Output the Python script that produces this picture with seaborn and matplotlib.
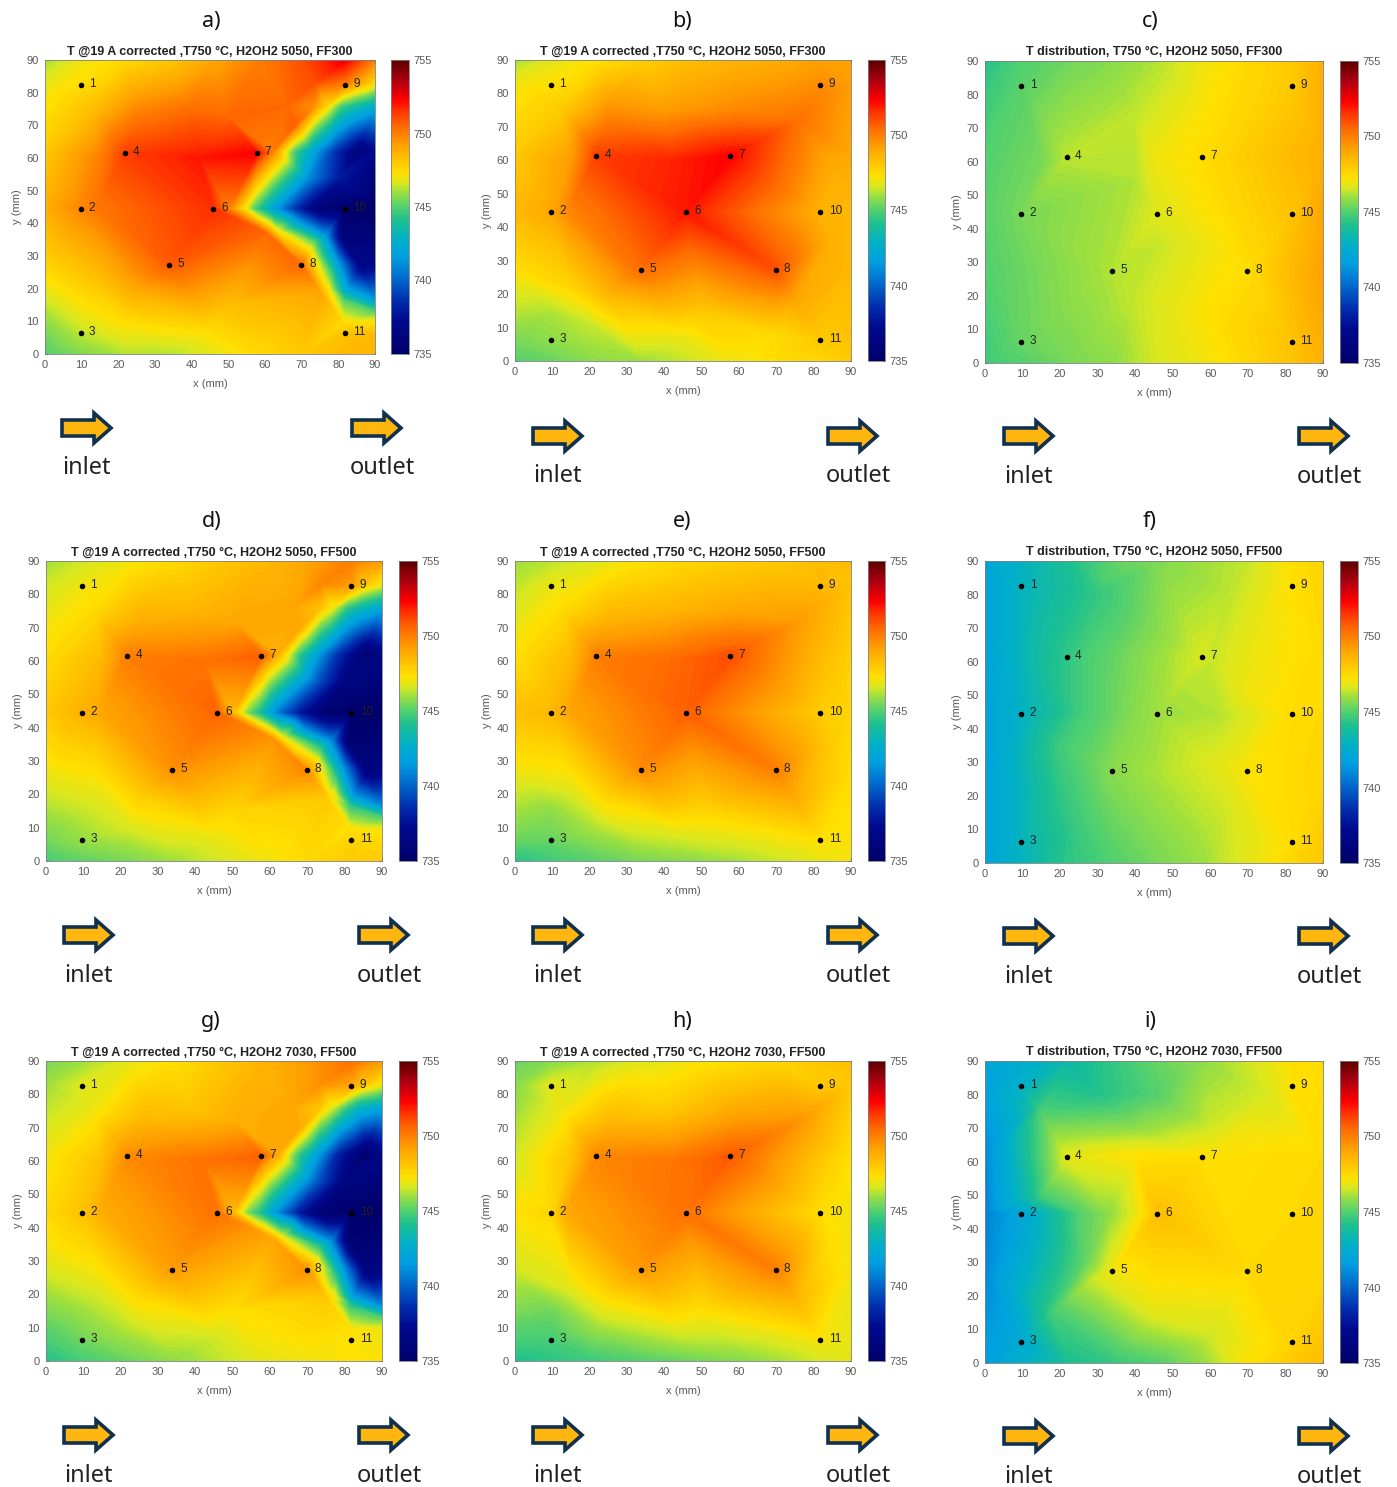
import numpy as np
import matplotlib
matplotlib.use("Agg")
import matplotlib.pyplot as plt
import matplotlib.tri as mtri
from matplotlib.cm import ScalarMappable
from matplotlib.colors import Normalize, LinearSegmentedColormap
from matplotlib.patches import Polygon
import seaborn as sns

sns.set_theme(style="white")
plt.rcParams['font.family'] = ['Liberation Sans', 'DejaVu Sans']

W, H = 1397, 1487

# thermocouple positions (mm)
sensor_x = [9.7, 9.7, 9.7, 21.8, 33.8, 45.9, 57.7, 69.8, 81.8, 81.8, 81.8]
sensor_y = [82.5, 44.5, 6.3, 61.4, 27.3, 44.5, 61.4, 27.3, 82.5, 44.5, 6.3]

# plate edge positions: left side, top, right side, bottom
edge_x = [0, 0, 0, 0, 0, 0, 0,
          10, 22, 34, 46, 58, 70, 82, 90,
          90, 90, 90, 90, 90, 90,
          82, 70, 58, 46, 34, 22, 10]
edge_y = [0, 6, 27, 45, 62, 83, 90,
          90, 90, 90, 90, 90, 90, 90, 90,
          83, 62, 45, 27, 6, 0,
          0, 0, 0, 0, 0, 0, 0]

# extra readings around the cold spot and the hot zone (panels a, d, g)
cold_x = [50, 54, 57, 62, 67.5, 74,
          62, 65, 67.8, 73, 78.4, 85.6,
          66, 73.6, 77, 80.5, 83.6, 85.5, 90,
          60.5, 63.4, 65.3, 69.2, 72.7, 71, 73.6, 76.4, 81,
          77, 75, 77.5, 79.3, 81.4, 81.4, 82.2, 86, 90, 90, 90,
          42, 50, 73.6, 68,
          13, 25, 40, 15, 14, 15, 25, 50, 10, 22, 45,
          72, 80]
cold_y = [44.5, 44.5, 44.5, 44.5, 44.5, 44.5,
          62, 62, 62, 62, 62, 62,
          76, 76, 76, 76, 76, 83, 76,
          36.8, 37.2, 39.5, 40.3, 29.8, 29, 34.4, 36, 36,
          19.6, 19, 25.5, 28, 9.4, 16.5, 19.6, 27, 13, 16.5, 9.5,
          60, 72, 83, 70,
          75, 72, 75, 60, 45, 22, 20, 15, 15, 10, 7,
          54, 54]
c_a = [750, 747.5, 745, 742, 739, 736,
       750, 747.5, 745, 742, 739, 736,
       750.5, 749.5, 747.5, 745, 744, 749, 742.5,
       750.5, 747.5, 745, 741.5, 747.5, 749.5, 745, 741.5, 736,
       747.5, 749, 745, 742, 747.5, 745, 742, 736.5, 745, 741.5, 747.3,
       752, 750.6, 751, 750.7,
       748.3, 750.2, 750.4, 750, 750.2, 748.2, 749, 748.3, 747.2, 747.4, 747.4,
       741, 738]
c_d = [748.5, 745.5, 744, 740.5, 738, 735.5,
       748.8, 746.8, 744.5, 741.5, 738.5, 735.5,
       749, 748.2, 746.8, 744.5, 743.5, 748, 742,
       749.5, 746.8, 744.5, 740.5, 747.3, 748.5, 744, 741, 735.5,
       747.3, 748, 744.5, 741.5, 747.3, 744.5, 741.5, 736, 745, 741, 747,
       750.3, 749, 749.8, 749,
       747.5, 748.8, 748.6, 748.5, 749, 747, 747.9, 747.6, 746.4, 746.6, 746.9,
       740, 736.5]
c_g = [748.5, 745.5, 744.2, 741, 738, 735.5,
       749, 746.5, 744.5, 741.5, 738, 735.3,
       749, 748, 746.5, 744.5, 743, 748, 742,
       749, 746.8, 744.5, 740.5, 747.3, 748.5, 744, 741, 735.5,
       747.3, 748, 744.5, 741.5, 747.3, 744.5, 741.5, 736, 745, 741, 747,
       750.3, 748.8, 749.6, 748.9,
       747, 748.5, 748.2, 748.3, 748.8, 746.8, 747.6, 747.3, 746, 746.3, 746.5,
       740, 736.5]

# ring of readings around the hot zone (panels b, e, h)
ring_x = [13, 25, 40, 60, 76, 15, 14, 15, 25, 50, 75, 84, 84, 42, 10, 22, 45, 70]
ring_y = [75, 72, 75, 75, 72, 60, 45, 22, 20, 15, 18, 35, 60, 60, 15, 10, 7, 8]
c_b = [748, 750, 749.3, 749.8, 750.3, 749.3, 749.8, 747.6, 748.6, 748, 749, 748.8, 749, 751.8, 746.2, 746.4, 746.9, 747.5]
c_e = [747.5, 748.7, 748.6, 749, 749.3, 748.5, 749, 746.8, 747.8, 747.6, 748.8, 748, 748.2, 750.5, 745.8, 746.2, 746.6, 747.2]
c_h = [747, 748.5, 748, 749, 749.5, 748.2, 749, 746.8, 747.6, 747.3, 748.6, 747.4, 747.8, 750.2, 745.4, 746, 746.4, 746.9]

# extra readings, T distribution panels
c3_x = [42, 40, 45, 40, 40, 46, 60, 60, 70, 15, 58]
c3_y = [80, 72, 62, 55, 20, 35, 35, 15, 45, 60, 75]
c_c = [746.3, 746.4, 747, 746.2, 746.4, 746.4, 747, 747.3, 747.7, 745.5, 747.2]
f_x = [15, 26, 26, 20, 20, 25, 30, 32, 40, 47, 60, 60, 62, 70, 64, 65, 75]
f_y = [60, 62, 45, 35, 20, 8, 80, 85, 45, 27, 30, 60, 44.5, 50, 15, 80, 75]
c_f = [743.8, 744.8, 744.8, 744.7, 744.4, 744.6, 744.5, 745, 745.7, 746.2, 746.7, 746.4, 746.2, 747, 746.5, 746.3, 747]
i_x = [12, 15, 12, 15, 16, 18, 25, 40, 60, 75, 45, 30, 25, 33, 38, 42, 27, 29, 45, 60, 60, 40]
i_y = [76, 74, 50, 50, 16, 15, 66, 70, 70, 80, 80, 80, 45, 44.5, 44.5, 44.5, 30, 25, 15, 8, 60, 62]
c_i = [743.6, 745, 743.8, 744.8, 744.2, 744.8, 746.3, 745.8, 746.5, 746.6, 745, 744.2, 745, 745.8, 746.5, 747.3, 745.3, 746.5, 746.8, 746.5, 747.3, 747.3]

t_a = [747.4, 749.8, 746.3, 751.3, 750.8, 751.6, 752.3, 750.5, 750, 735, 748.2]
t_b = [747.3, 749, 745.8, 751.3, 750.4, 752, 752.3, 751, 749.7, 748.7, 748]
t_c = [745.1, 745.5, 745.3, 746.3, 746.2, 746.7, 747.4, 747.4, 748, 748.2, 748.2]
t_d = [747, 748.7, 745.9, 750, 749.6, 750.6, 750.7, 749.8, 749.3, 735, 747.7]
t_e = [746.9, 748.5, 745.3, 750, 749.7, 750.7, 751, 750, 748.5, 747.9, 747.3]
t_f = [743, 742.9, 743.1, 744.4, 745.7, 746, 746.6, 747.2, 747.3, 747.4, 747.4]
t_g = [746.7, 748.2, 745.4, 749.7, 749.3, 750.3, 750.7, 749.6, 749, 735, 747.3]
t_h = [746.8, 747.6, 744.8, 749.8, 749.4, 750.3, 750.8, 750, 748, 747.4, 747.1]
t_i = [742.8, 742, 742.3, 746.8, 747, 748.3, 747.4, 747.5, 747.3, 747.5, 747.7]

e_a = [745, 745.4, 747.6, 748.8, 748, 746.8, 746, 747, 747.5, 748, 749, 750, 751, 752.5, 750,
       747.5, 737, 735, 737, 748.5, 748.5, 748.5, 748, 747.5, 746.8, 746.2, 746.2, 745.6]
e_b = [745, 745.5, 747.3, 748.5, 748, 747, 746, 746.8, 747.3, 747.8, 748.3, 748.6, 748.8, 749.2, 749.3,
       749.3, 749, 748.5, 748.5, 748.2, 748, 747.6, 747.4, 747, 746.4, 746, 745.8, 745.3]
e_c = [744.7, 744.7, 745, 745.1, 745, 744.5, 744.2, 745, 745.4, 745.7, 746.2, 747, 747.5, 748, 748.7,
       748.8, 748.8, 749, 749.2, 748.8, 748.7, 748.2, 747.6, 747, 746.6, 745.8, 745.5, 745]
e_d = [744.8, 745.4, 747, 748, 747.4, 746.5, 746, 746.5, 747, 747.5, 748, 748.5, 749, 750, 749.3,
       747, 736.5, 735, 736.5, 747.5, 748, 748, 747.5, 747, 746.5, 746, 745.5, 745.2]
e_e = [744.3, 745.3, 747, 748.3, 747.3, 746.3, 746, 746.3, 746.7, 747.2, 747.6, 747.8, 748, 748.4, 748.5,
       748.2, 747.8, 747.6, 747.4, 747.2, 747.2, 746.9, 746.4, 746, 745.7, 745.5, 745.1, 744.7]
e_f = [741.9, 741.8, 741.8, 741.8, 741.9, 741.9, 742, 743, 744, 745.2, 745.6, 746, 746.4, 747.4, 747.6,
       747.6, 747.5, 747.5, 747.6, 748, 748, 747.6, 746.8, 746, 745.5, 745, 744.4, 743]
e_g = [744.2, 744.8, 746.6, 747.5, 747, 746, 745.5, 746, 746.8, 747.3, 748, 748.6, 749.3, 750.3, 749.3,
       747, 736.5, 735, 736.5, 747, 747.3, 747.3, 747, 746.8, 746.3, 745.8, 745.3, 744.8]
e_h = [744.1, 744.8, 746.5, 747.3, 746.5, 745.7, 745.3, 745.7, 746.2, 746.7, 747, 747.3, 747.6, 748.1, 748.3,
       748, 747.3, 747, 747, 746.9, 746.9, 746.6, 746, 745.6, 745.3, 745, 744.7, 744.4]
e_i = [741.5, 741.5, 741, 740.8, 741, 741.8, 742, 742.5, 743.5, 744.5, 745.3, 745.8, 746.5, 747.3, 747.5,
       747.4, 747.5, 747.5, 747.6, 748.2, 748.4, 748, 747.2, 745.9, 745, 744.5, 744, 742.8]

titles = ["T @19 A corrected ,T750 °C, H2OH2 5050, FF300",
          "T @19 A corrected ,T750 °C, H2OH2 5050, FF300",
          "T distribution, T750 °C, H2OH2 5050, FF300",
          "T @19 A corrected ,T750 °C, H2OH2 5050, FF500",
          "T @19 A corrected ,T750 °C, H2OH2 5050, FF500",
          "T distribution, T750 °C, H2OH2 5050, FF500",
          "T @19 A corrected ,T750 °C, H2OH2 7030, FF500",
          "T @19 A corrected ,T750 °C, H2OH2 7030, FF500",
          "T distribution, T750 °C, H2OH2 7030, FF500"]
letters = ["a)", "b)", "c)", "d)", "e)", "f)", "g)", "h)", "i)"]
temps = [t_a, t_b, t_c, t_d, t_e, t_f, t_g, t_h, t_i]
edges = [e_a, e_b, e_c, e_d, e_e, e_f, e_g, e_h, e_i]
extras = [(cold_x, cold_y, c_a), (ring_x, ring_y, c_b), (c3_x, c3_y, c_c),
          (cold_x, cold_y, c_d), (ring_x, ring_y, c_e), (f_x, f_y, c_f),
          (cold_x, cold_y, c_g), (ring_x, ring_y, c_h), (i_x, i_y, c_i)]

# pixel boxes: left, right, top, bottom, colorbar left, colorbar right
boxes = [(45, 375, 60, 354, 391, 409), (515, 851, 60, 361, 868, 885), (985, 1323, 61, 363, 1340, 1358),
         (46, 382, 561, 861, 399, 417), (515, 851, 561, 861, 868, 885), (985, 1323, 561, 863, 1340, 1358),
         (46, 382, 1061, 1361, 399, 417), (515, 851, 1061, 1361, 868, 885), (985, 1323, 1061, 1363, 1340, 1358)]
# inlet x, outlet x, arrow y, text y
arrows = [(62, 352, 428, 466), (533, 828, 436, 474), (1004, 1299, 436, 475),
          (64, 359, 935, 974), (533, 828, 935, 974), (1004, 1299, 936, 975),
          (64, 359, 1435, 1474), (533, 828, 1435, 1474), (1004, 1299, 1436, 1475)]
letter_pos = [(211, 22), (682, 22), (1150, 22), (212, 522), (682, 522), (1150, 522),
              (211, 1022), (682, 1022), (1150, 1022)]

# colorbar as it looks in the picture (jet after the image was resampled)
bar_t = [735, 737.3, 738.7, 740.3, 741.6, 742.8, 744.1, 745, 746, 746.6, 747.3, 749.1, 750.5, 751.6, 752.3, 753.6, 755]
bar_c = ["#00006a", "#000a90", "#0030b0", "#0070d0", "#00a0e0", "#00b0c8", "#1cc090", "#50d070", "#9ce040",
         "#d8e820", "#ffe000", "#ffa500", "#ff6a00", "#ff3000", "#ff0000", "#b00010", "#5a0000"]
cmap = LinearSegmentedColormap.from_list("bar", [((v - 735) / 20, c) for v, c in zip(bar_t, bar_c)], N=512)
norm = Normalize(735, 755)
levels = np.linspace(735, 755, 201)
gray = "#5a5a5a"

fig = plt.figure(figsize=(W / 100, H / 100), dpi=100)
over = fig.add_axes([0, 0, 1, 1], zorder=5)
over.set_xlim(0, W)
over.set_ylim(H, 0)
over.axis("off")
over.patch.set_alpha(0)


def draw_arrow(x0, yc):
    shape = [(x0, yc - 8), (x0 + 32, yc - 8), (x0 + 32, yc - 15), (x0 + 49, yc),
             (x0 + 32, yc + 15), (x0 + 32, yc + 8), (x0, yc + 8)]
    over.add_patch(Polygon(shape, closed=True, fc="#FFB70F", ec="#10304F", lw=2.6, joinstyle="miter"))


for i in range(9):
    l, r, t, b, cl, cr = boxes[i]
    ax = fig.add_axes([l / W, 1 - b / H, (r - l) / W, (b - t) / H])
    xs = list(sensor_x) + edge_x + extras[i][0]
    ys = list(sensor_y) + edge_y + extras[i][1]
    vals = list(temps[i]) + edges[i] + extras[i][2]
    tri = mtri.Triangulation(xs, ys)
    ax.tricontourf(tri, vals, levels=levels, cmap=cmap, norm=norm, extend="both")
    sns.scatterplot(x=sensor_x, y=sensor_y, color="black", s=16, linewidth=0, legend=False, ax=ax, zorder=4)
    for k in range(11):
        ax.text(sensor_x[k] + 2.2, sensor_y[k] + 0.3, str(k + 1), fontsize=8.5, color="#222222", va="center", ha="left", zorder=5)
    ax.set_xlim(0, 90)
    ax.set_ylim(0, 90)
    ax.set_xticks(range(0, 91, 10))
    ax.set_yticks(range(0, 91, 10))
    ax.tick_params(direction="in", length=2.5, width=0.6, color=gray, labelcolor=gray, labelsize=8,
                   pad=4.5, top=True, right=True, bottom=True, left=True)
    ax.set_xlabel("x (mm)", fontsize=8, color=gray, labelpad=6)
    ax.set_ylabel("y (mm)", fontsize=8, color=gray, labelpad=3)
    ax.set_title(titles[i], fontsize=9, fontweight="bold", color="#222222", pad=4)
    for s in ax.spines.values():
        s.set_color("#808080")
        s.set_linewidth(0.6)

    cax = fig.add_axes([cl / W, 1 - b / H, (cr - cl) / W, (b - t) / H])
    cb = fig.colorbar(ScalarMappable(norm=norm, cmap=cmap), cax=cax, ticks=[735, 740, 745, 750, 755])
    cb.ax.tick_params(direction="in", length=2.5, width=0.6, color=gray, labelcolor=gray, labelsize=8, pad=3)
    cb.outline.set_edgecolor("#808080")
    cb.outline.set_linewidth(0.6)

    xin, xout, ya, yt = arrows[i]
    draw_arrow(xin, ya)
    draw_arrow(xout, ya)
    over.text(xin, yt + 2, "inlet", fontsize=17, family="Noto Sans", color="#222222", ha="left", va="center")
    over.text(xout - 2, yt + 2, "outlet", fontsize=17, family="Noto Sans", color="#222222", ha="left", va="center")
    over.text(letter_pos[i][0], letter_pos[i][1], letters[i], fontsize=15.5, family="Noto Sans", color="#111111",
              ha="center", va="center")

fig.savefig("out.png", dpi=100)
